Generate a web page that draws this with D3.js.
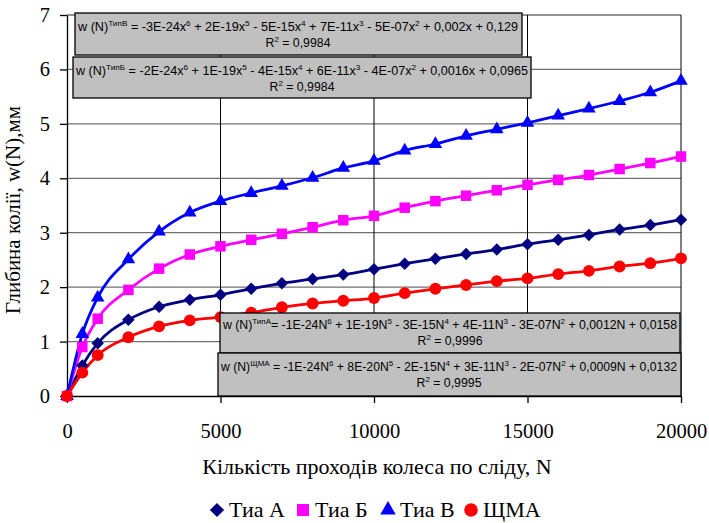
<!DOCTYPE html>
<html>
<head>
<meta charset="utf-8">
<script src="https://cdn.jsdelivr.net/npm/d3@7"></script>
<style>
  body { margin: 0; background: #fff; }
  svg { display: block; }
</style>
</head>
<body>
<div id="chart"></div>
<script>
// passes of the wheel
const passes = [0, 500, 1000, 2000, 3000, 4000, 5000, 6000, 7000, 8000, 9000, 10000,
  11000, 12000, 13000, 14000, 15000, 16000, 17000, 18000, 19000, 20000];

// rut depth, mm
const tipA = [0, 0.56, 0.97, 1.40, 1.64, 1.77, 1.86, 1.97, 2.07, 2.15, 2.23, 2.33,
  2.43, 2.52, 2.61, 2.69, 2.79, 2.87, 2.96, 3.06, 3.14, 3.24];
const tipB = [0, 0.90, 1.42, 1.95, 2.34, 2.60, 2.75, 2.87, 2.98, 3.10, 3.23, 3.31,
  3.46, 3.58, 3.68, 3.78, 3.88, 3.97, 4.06, 4.17, 4.28, 4.40];
const tipV = [0, 1.14, 1.81, 2.51, 3.02, 3.37, 3.58, 3.73, 3.86, 4.01, 4.19, 4.32,
  4.51, 4.63, 4.78, 4.90, 5.02, 5.15, 5.28, 5.42, 5.58, 5.79];
const shma = [0, 0.43, 0.75, 1.08, 1.28, 1.39, 1.45, 1.53, 1.63, 1.70, 1.75, 1.80,
  1.89, 1.97, 2.04, 2.11, 2.16, 2.24, 2.30, 2.38, 2.44, 2.53];

const seriesNames = ['Тиа А', 'Тиа Б', 'Тиа В', 'ЩМА'];
const xTicks = [0, 5000, 10000, 15000, 20000];
const yTicks = [0, 1, 2, 3, 4, 5, 6, 7];

const xTitle = 'Кількість проходів колеса по сліду, N';
const yTitle = 'Глибина колії, w(N),мм';

// trendline labels, ^{..} marks superscript
const eqV = ['w (N)^{ТипВ}  = -3E-24x^{6} + 2E-19x^{5} - 5E-15x^{4} + 7E-11x^{3} - 5E-07x^{2} + 0,002x + 0,129', 'R^{2} = 0,9984'];
const eqB = ['w (N)^{ТипБ} = -2E-24x^{6} + 1E-19x^{5} - 4E-15x^{4} + 6E-11x^{3} - 4E-07x^{2} + 0,0016x + 0,0965', 'R^{2} = 0,9984'];
const eqA = ['w (N)^{ТипА}= -1E-24N^{6} + 1E-19N^{5} - 3E-15N^{4} + 4E-11N^{3} - 3E-07N^{2} + 0,0012N + 0,0158', 'R^{2} = 0,9996'];
const eqS = ['w (N)^{ЩМА} = -1E-24N^{6} + 8E-20N^{5} - 2E-15N^{4} + 3E-11N^{3} - 2E-07N^{2} + 0,0009N + 0,0132', 'R^{2} = 0,9995'];

const width = 709, height = 523;
const margin = { left: 67, right: 28, top: 15, bottom: 127 };
const serif = '"Liberation Serif", "Times New Roman", serif';
const sans = '"Liberation Sans", Arial, sans-serif';

const svg = d3.select('#chart').append('svg')
  .attr('width', width)
  .attr('height', height);

const x = d3.scaleLinear().domain([0, 20000]).range([margin.left, width - margin.right]);
const y = d3.scaleLinear().domain([0, 7]).range([height - margin.bottom, margin.top]);

const diamond = { draw(ctx, size) { const r = Math.sqrt(size / 2); ctx.moveTo(0, -r); ctx.lineTo(r, 0); ctx.lineTo(0, r); ctx.lineTo(-r, 0); ctx.closePath(); } };

const series = [
  { name: seriesNames[0], values: tipA, color: '#000080', symbol: diamond, size: 78 },
  { name: seriesNames[1], values: tipB, color: '#ff00ff', symbol: d3.symbolSquare, size: 110 },
  { name: seriesNames[2], values: tipV, color: '#0000ff', symbol: d3.symbolTriangle, size: 80 },
  { name: seriesNames[3], values: shma, color: '#ff0000', symbol: d3.symbolCircle, size: 110 },
];

// grid
const grid = svg.append('g').attr('class', 'grid');
grid.selectAll('line.h').data(yTicks.slice(1)).enter().append('line')
  .attr('class', 'h')
  .attr('x1', x(0)).attr('x2', x(20000))
  .attr('y1', (d) => y(d)).attr('y2', (d) => y(d))
  .style('stroke', '#707070').style('stroke-width', 1.3);
grid.selectAll('line.v').data(xTicks.slice(1)).enter().append('line')
  .attr('class', 'v')
  .attr('x1', (d) => x(d)).attr('x2', (d) => x(d))
  .attr('y1', y(0)).attr('y2', y(7))
  .style('stroke', '#000').style('stroke-width', 1);

// axes
const xAxis = svg.append('g')
  .attr('transform', `translate(0,${y(0)})`)
  .call(d3.axisBottom(x).tickValues(xTicks).tickSize(7).tickSizeOuter(0).tickPadding(20).tickFormat(d3.format('d')));
const yAxis = svg.append('g')
  .attr('transform', `translate(${x(0)},0)`)
  .call(d3.axisLeft(y).tickValues(yTicks).tickSize(7).tickSizeOuter(0).tickPadding(10).tickFormat(d3.format('d')));
[xAxis, yAxis].forEach((a) => {
  a.selectAll('path, line').style('stroke', '#000').style('stroke-width', 1.3);
  a.selectAll('text').style('font-family', serif).style('font-size', '20.5px').style('fill', '#000');
});

svg.append('text')
  .attr('x', 377).attr('y', 474)
  .attr('text-anchor', 'middle')
  .style('font-family', serif).style('font-size', '22px')
  .text(xTitle);
svg.append('text')
  .attr('transform', 'translate(20,210) rotate(-90)')
  .attr('text-anchor', 'middle')
  .style('font-family', serif).style('font-size', '21px')
  .text(yTitle);

// lines and markers
const line = d3.line()
  .curve(d3.curveMonotoneX)
  .x((d, i) => x(passes[i]))
  .y((d) => y(d));

const plot = svg.append('g').attr('class', 'plot');
series.forEach((s) => {
  plot.append('path')
    .attr('d', line(s.values))
    .style('fill', 'none')
    .style('stroke', s.color)
    .style('stroke-width', 2.8);
});
series.forEach((s) => {
  plot.append('g').selectAll('path').data(s.values).enter().append('path')
    .attr('transform', (d, i) => `translate(${x(passes[i])},${y(d)})`)
    .attr('d', d3.symbol().type(s.symbol).size(s.size))
    .style('fill', s.color);
});

// trendline label boxes
function eqBox(lines, bx, by, bw, bh, x1, len, y1, y2) {
  const g = svg.append('g');
  g.append('rect')
    .attr('x', bx).attr('y', by).attr('width', bw).attr('height', bh)
    .style('fill', '#c0c0c0').style('stroke', '#000').style('stroke-width', 1.3);
  [[lines[0], x1, y1, 'start'], [lines[1], x1 + len / 2, y2, 'middle']].forEach(([str, tx, ty, anchor], k) => {
    const t = g.append('text')
      .attr('x', tx).attr('y', ty)
      .attr('text-anchor', anchor)
      .style('font-family', sans).style('font-size', '12.3px').style('fill', '#000');
    if (k === 0) t.attr('textLength', len).attr('lengthAdjust', 'spacingAndGlyphs');
    const parts = str.split(/\^\{([^}]*)\}/);
    let shift = 0;
    parts.forEach((p, i) => {
      if (!p) return;
      const sup = i % 2 === 1;
      const span = t.append('tspan').text(p);
      if (sup) {
        span.attr('dy', -5 - shift).style('font-size', '8px');
        shift = -5;
      } else if (shift) {
        span.attr('dy', 5);
        shift = 0;
      }
    });
  });
}

eqBox(eqV, 75, 13, 447, 42, 78, 440, 31, 47);
eqBox(eqB, 73, 57, 458, 41, 76, 452, 75, 91);
eqBox(eqA, 220, 313, 460, 40, 223, 454, 329, 345);
eqBox(eqS, 218, 353, 463, 43, 221, 456, 371, 387);

// legend
const legendPos = [217, 303, 388, 471];
const legend = svg.append('g');
series.forEach((s, i) => {
  legend.append('path')
    .attr('transform', `translate(${legendPos[i]},510)`)
    .attr('d', d3.symbol().type(s.symbol).size(s.size * 1.3))
    .style('fill', s.color);
  legend.append('text')
    .attr('x', legendPos[i] + 12).attr('y', 517)
    .style('font-family', serif).style('font-size', '22px')
    .text(s.name);
});
</script>
</body>
</html>
